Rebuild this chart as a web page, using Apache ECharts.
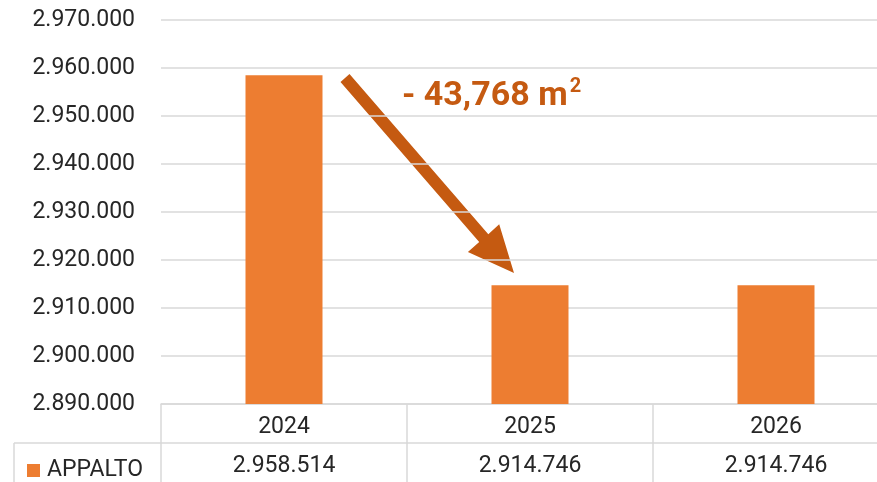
<!DOCTYPE html>
<html><head><meta charset="utf-8">
<script src="https://cdn.jsdelivr.net/npm/echarts@6/dist/echarts.min.js"></script>
<style>html,body{margin:0;padding:0;background:#fff;overflow:hidden;width:877px;height:482px}#c{width:899px;height:482px}</style>
</head><body><div id="c"></div>
<script>
var categories = ['2024', '2025', '2026'];
var values = [2958514, 2914746, 2914746];
var seriesName = 'APPALTO';
var yMin = 2890000, yMax = 2970000, yStep = 10000;
var deltaLabel = '- 43,768 m';

function fmt(v){ return String(Math.round(v)).replace(/\B(?=(\d{3})+(?!\d))/g, '.'); }

var FONT = 'Roboto';
var chart = echarts.init(document.getElementById('c'));
var lineCol = '#d9d9d9';
var arrowCol = '#C55A11';
chart.setOption({
  animation: false,
  textStyle: {fontFamily: FONT},
  grid: {left: 161, right: 0, top: 20, bottom: 78, containLabel: false},
  legend: {
    data: [seriesName], left: 22, top: 454, icon: 'rect', itemWidth: 13, itemHeight: 13,
    textStyle: {fontSize: 23, color: '#262626', fontFamily: FONT, padding: [0,0,0,2]}
  },
  xAxis: [{
    type: 'category', data: categories, position: 'bottom',
    axisLine: {show: true, lineStyle: {color: lineCol, width: 1.5}},
    axisTick: {show: true, interval: 0, length: 78, lineStyle: {color: lineCol, width: 1.5}},
    axisLabel: {fontSize: 23, color: '#262626', margin: 12, fontFamily: FONT}
  }, {
    type: 'category', data: categories, position: 'bottom', offset: 39,
    axisLine: {show: true, lineStyle: {color: lineCol, width: 1.5}},
    axisTick: {show: false},
    axisLabel: {fontSize: 23, color: '#262626', margin: 12, fontFamily: FONT,
      formatter: function(v, i){ return fmt(values[i]); }}
  }],
  yAxis: {
    type: 'value', min: yMin, max: yMax, interval: yStep,
    axisLine: {show: false}, axisTick: {show: false},
    splitLine: {lineStyle: {color: lineCol, width: 1.5}},
    axisLabel: {fontSize: 23, color: '#262626', margin: 26, fontFamily: FONT, formatter: fmt}
  },
  series: [{
    name: seriesName, type: 'bar', data: values, barWidth: '31.3%',
    itemStyle: {color: '#ED7D31'}
  }],
  graphic: [
    {type: 'line', shape: {x1: 14, y1: 443, x2: 161, y2: 443}, style: {stroke: lineCol, lineWidth: 1.5}},
    {type: 'line', shape: {x1: 14, y1: 443, x2: 14, y2: 482}, style: {stroke: lineCol, lineWidth: 1.5}},
    {type: 'polygon', shape: {points: [[340.5,81.9],[479.2,242.1],[467.9,251.9],[514,273],[499.2,224.3],[488.3,234.3],[349.5,74.1]]},
      style: {fill: arrowCol}},
    {type: 'text', left: 402, top: 77, style: {
      text: deltaLabel + '{s|2}', fill: arrowCol, font: 'bold 34px ' + FONT,
      rich: {s: {fontSize: 20, fontWeight: 'bold', fill: arrowCol, verticalAlign: 'top', padding: [0,0,18,2], fontFamily: FONT}}
    }}
  ]
});
</script></body></html>
